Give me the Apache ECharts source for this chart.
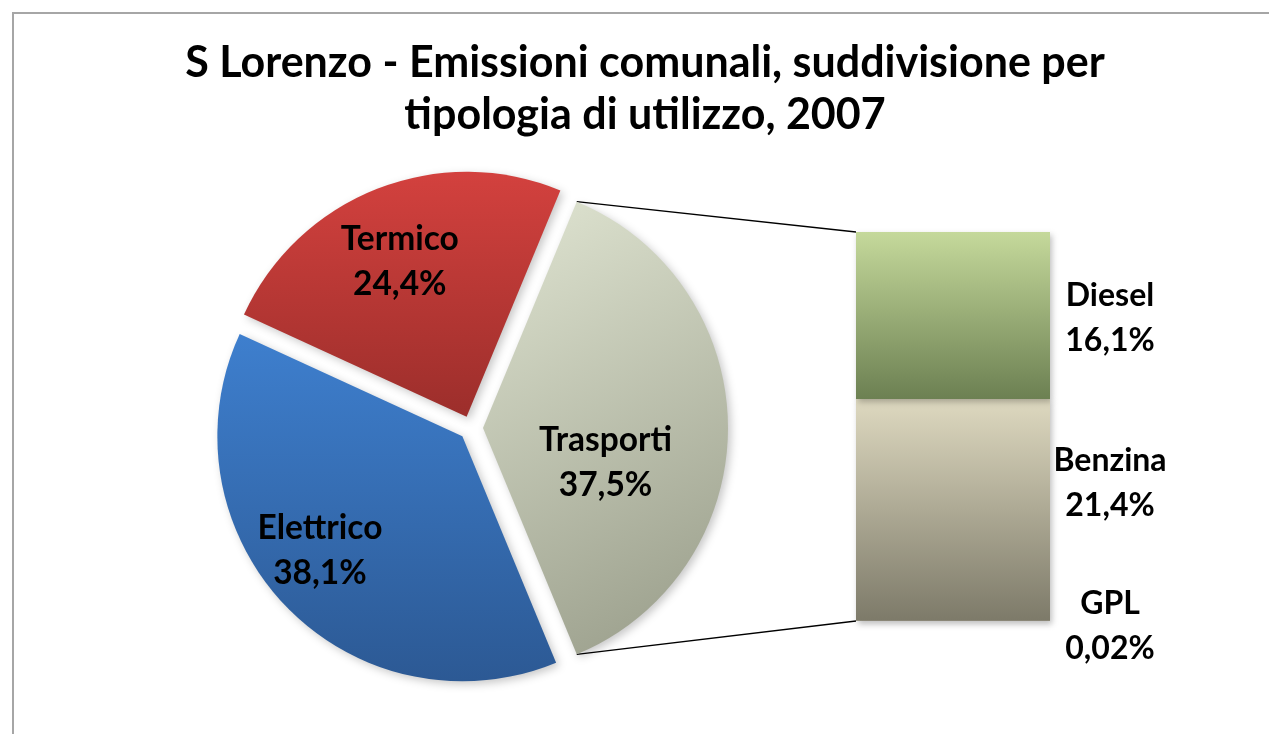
<!DOCTYPE html>
<html style="height: 100%">
   <head>
       <meta charset="utf-8">
   </head>
   <body style="height: 100%; margin: 0; background: #fff">
       <div id="container" style="height: 734px; width: 1269px;"></div>
       <script type="text/javascript" src="https://cdn.jsdelivr.net/npm/echarts@6/dist/echarts.min.js"></script>
       <script type="text/javascript">
        // pie: main split (Trasporti is the slice expanded into the bar)
        var pieNames = ['Trasporti', 'Elettrico', 'Termico'];
        var pieValues = [37.5, 38.1, 24.4];
        // bar: breakdown of Trasporti, bottom to top
        var barNames = ['GPL', 'Benzina', 'Diesel'];
        var barValues = [0.02, 21.4, 16.1];

        var FONT = 'Lato';
        var pieCx = 471, pieCy = 428, pieR = 245, explode = 12, startAngle = 67.5;
        var gridLeft = 856, gridTop = 232, gridW = 194, gridH = 389;

        function fmt(v) { return String(v).replace('.', ',') + '%'; }
        function vgrad(c0, c1) {
            return new echarts.graphic.LinearGradient(0, 0, 0, 1, [
                { offset: 0, color: c0 }, { offset: 1, color: c1 }
            ]);
        }

        var pieColors = [
            new echarts.graphic.LinearGradient(0, 0, 1, 1, [
                { offset: 0, color: '#e0e5d2' }, { offset: 1, color: '#979b88' }
            ]),
            vgrad('#3e7fce', '#2c5994'),
            vgrad('#d3413e', '#9c2e2b')
        ];
        var barColors = [
            '#8c7c3e',
            vgrad('#ded9c0', '#7d7a69'),
            vgrad('#c5d99b', '#6c8052')
        ];
        // nudges for the labels inside the pie (px)
        var pieLabelShift = [[-3, 35], [-52, 27], [-21, -38]];
        var barLabelShift = [[60, 5], [60, -27], [60, 3]];

        var total = barValues.reduce(function (a, b) { return a + b; }, 0);

        var labelStyle = {
            color: '#000',
            fontFamily: FONT,
            fontWeight: 'bold',
            fontSize: 33.5,
            lineHeight: 45
        };

        var barSeries = barNames.map(function (name, i) {
            return {
                name: name,
                type: 'bar',
                stack: 'trasporti',
                barWidth: '100%',
                data: [barValues[i]],
                itemStyle: {
                    color: barColors[i],
                    shadowBlur: 6,
                    shadowOffsetX: 2,
                    shadowOffsetY: 3,
                    shadowColor: 'rgba(0,0,0,0.25)'
                },
                label: Object.assign({
                    show: true,
                    position: 'right',
                    distance: 0,
                    align: 'center',
                    offset: barLabelShift[i],
                    formatter: function (p) { return p.seriesName + '\n' + fmt(p.value); }
                }, labelStyle, { fontSize: 32 })
            };
        });

        var dom = document.getElementById("container");
        var myChart = echarts.init(dom);
        var option = {
            animation: false,
            backgroundColor: '#fff',
            title: {
                text: 'S Lorenzo - Emissioni comunali, suddivisione per\ntipologia di utilizzo, 2007',
                left: 645,
                textAlign: 'center',
                top: 37,
                padding: 0,
                textStyle: {
                    color: '#000',
                    fontFamily: FONT,
                    fontWeight: 'bold',
                    fontSize: 43,
                    lineHeight: 52
                }
            },
            grid: { left: gridLeft, top: gridTop, width: gridW, height: gridH },
            xAxis: { type: 'category', data: ['Trasporti'], show: false },
            yAxis: { type: 'value', min: 0, max: total, show: false },
            series: [{
                type: 'pie',
                center: [pieCx, pieCy],
                radius: [0, pieR],
                startAngle: startAngle,
                clockwise: true,
                selectedMode: 'multiple',
                selectedOffset: explode,
                emphasis: { disabled: true },
                labelLine: { show: false },
                label: Object.assign({
                    show: true,
                    position: 'inside',
                    formatter: function (p) { return p.name + '\n' + fmt(p.value); }
                }, labelStyle),
                labelLayout: function (p) {
                    var s = pieLabelShift[p.dataIndex];
                    return { dx: s[0], dy: s[1] };
                },
                itemStyle: {
                    shadowBlur: 8,
                    shadowOffsetX: 3,
                    shadowOffsetY: 3,
                    shadowColor: 'rgba(0,0,0,0.22)'
                },
                data: pieNames.map(function (n, i) {
                    return { name: n, value: pieValues[i], selected: true, itemStyle: { color: pieColors[i] } };
                })
            }].concat(barSeries)
        };
        myChart.setOption(option, true);

        // connector lines from the Trasporti slice edges to the bar corners
        var halfSpan = pieValues[0] / pieValues.reduce(function (a, b) { return a + b; }, 0) * 180;
        var midRad = (startAngle - halfSpan) * Math.PI / 180;
        var ox = pieCx + explode * Math.cos(midRad), oy = pieCy - explode * Math.sin(midRad);
        function edge(deg) {
            var r = deg * Math.PI / 180;
            return [ox + pieR * Math.cos(r), oy - pieR * Math.sin(r)];
        }
        var pTop = edge(startAngle);
        var pBot = edge(startAngle - 2 * halfSpan);
        var barTop = myChart.convertToPixel({ yAxisIndex: 0 }, total);
        var barBot = myChart.convertToPixel({ yAxisIndex: 0 }, 0);

        myChart.setOption({
            graphic: [
                {
                    type: 'rect', silent: true,
                    shape: { x: 13, y: 13, width: 1400, height: 900 },
                    style: { fill: null, stroke: '#a6a6a6', lineWidth: 2 }
                },
                {
                    type: 'line', silent: true,
                    shape: { x1: pTop[0], y1: pTop[1], x2: gridLeft, y2: barTop },
                    style: { stroke: '#000', lineWidth: 1.3 }
                },
                {
                    type: 'line', silent: true,
                    shape: { x1: pBot[0], y1: pBot[1], x2: gridLeft, y2: barBot },
                    style: { stroke: '#000', lineWidth: 1.3 }
                }
            ]
        });
       </script>
   </body>
</html>
